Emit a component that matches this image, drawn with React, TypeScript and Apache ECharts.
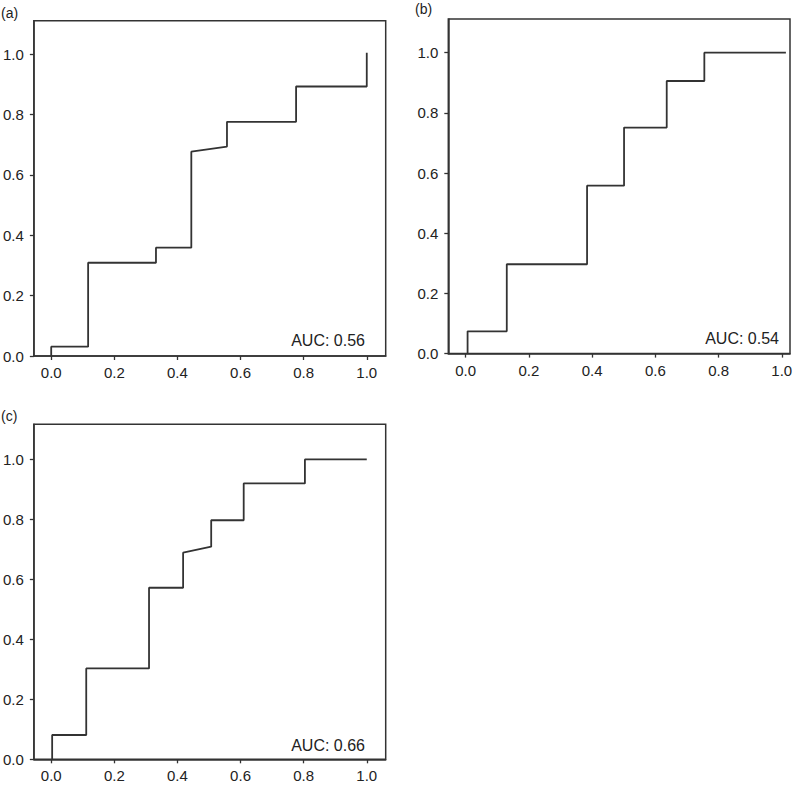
import React, { useEffect, useRef } from "react";
import * as echarts from "echarts";

// ROC curve vertices [false positive rate, true positive rate]
const rocA: [number, number][] = [
  [0, 0], [0, 0.031], [0.117, 0.031], [0.117, 0.309], [0.332, 0.309], [0.332, 0.359],
  [0.444, 0.359], [0.444, 0.677], [0.557, 0.694], [0.557, 0.776], [0.776, 0.776],
  [0.776, 0.893], [1.0, 0.893], [1.0, 1.005],
];
const rocB: [number, number][] = [
  [0.006, 0], [0.006, 0.074], [0.13, 0.074], [0.13, 0.297], [0.384, 0.297], [0.384, 0.558],
  [0.501, 0.558], [0.501, 0.751], [0.636, 0.751], [0.636, 0.906], [0.755, 0.906],
  [0.755, 1.0], [1.013, 1.0],
];
const rocC: [number, number][] = [
  [0.003, 0], [0.003, 0.081], [0.111, 0.081], [0.111, 0.303], [0.31, 0.303], [0.31, 0.572],
  [0.418, 0.572], [0.418, 0.689], [0.507, 0.709], [0.507, 0.797], [0.61, 0.797],
  [0.61, 0.92], [0.804, 0.92], [0.804, 1.0], [1.0, 1.0],
];
const panelLabels = ["(a)", "(b)", "(c)"];
const aucLabels = ["AUC: 0.56", "AUC: 0.54", "AUC: 0.66"];
const tickValues = [0, 0.2, 0.4, 0.6, 0.8, 1.0];

const FONT = "Liberation Sans, Arial, sans-serif";
const INK = "#222";
const LINE = "#333";

export default function App() {
  const ref = useRef<HTMLDivElement>(null);
  useEffect(() => {
    if (!ref.current) return;
    const chart = echarts.init(ref.current, null, { renderer: "svg" });

    const grids = [
      { left: 33.3, top: 20.7, width: 352.4, height: 335.3 },
      { left: 448.3, top: 19, width: 341.7, height: 334.6 },
      { left: 33.3, top: 424.3, width: 352.4, height: 335 },
    ];
    const xr = [
      [-0.055, 1.06],
      [-0.055, 1.026],
      [-0.055, 1.06],
    ];
    const yr = [
      [0, 1.111],
      [0, 1.112],
      [0, 1.117],
    ];
    const datasets = [rocA, rocB, rocC];

    const mkAxis = (i: number, isX: boolean) => ({
      type: "value",
      gridIndex: i,
      min: isX ? xr[i][0] : yr[i][0],
      max: isX ? xr[i][1] : yr[i][1],
      splitLine: { show: false },
      axisLine: { show: true, onZero: false, lineStyle: { color: LINE, width: 1.5 } },
      axisTick: {
        show: true,
        inside: false,
        length: 4,
        customValues: tickValues,
        lineStyle: { color: LINE, width: 1.3 },
      },
      axisLabel: {
        show: true,
        customValues: tickValues,
        formatter: (v: number) => v.toFixed(1),
        color: INK,
        fontSize: 15,
        fontFamily: FONT,
        margin: isX ? 9 : 10,
      },
    });

    const aucPos = [
      { x: 365, y: 340 },
      { x: 779, y: 338 },
      { x: 365, y: 745 },
    ];
    const labelPos = [
      { x: 1, y: 12.5 },
      { x: 415, y: 9 },
      { x: 1, y: 416 },
    ];

    chart.setOption({
      animation: false,
      backgroundColor: "#fff",
      textStyle: { fontFamily: FONT, fontSize: 15, color: INK },
      grid: grids.map((g) => ({
        ...g,
        show: true,
        borderColor: LINE,
        borderWidth: 1.5,
        backgroundColor: "transparent",
        containLabel: false,
      })),
      xAxis: [0, 1, 2].map((i) => mkAxis(i, true)),
      yAxis: [0, 1, 2].map((i) => mkAxis(i, false)),
      series: datasets.map((d, i) => ({
        type: "line",
        xAxisIndex: i,
        yAxisIndex: i,
        data: d,
        showSymbol: false,
        symbol: "none",
        lineStyle: { color: LINE, width: 1.8 },
        silent: true,
      })),
      graphic: [
        ...panelLabels.map((t, i) => ({
          type: "text",
          x: labelPos[i].x,
          y: labelPos[i].y,
          style: {
            text: t,
            fill: INK,
            fontSize: 14,
            fontFamily: FONT,
            textVerticalAlign: "middle",
            verticalAlign: "middle",
          },
        })),
        ...aucLabels.map((t, i) => ({
          type: "text",
          x: aucPos[i].x,
          y: aucPos[i].y,
          style: {
            text: t,
            fill: INK,
            fontSize: 16,
            fontFamily: FONT,
            align: "right",
            textAlign: "right",
            verticalAlign: "middle",
            textVerticalAlign: "middle",
          },
        })),
      ],
    });
    return () => chart.dispose();
  }, []);
  return (
    <div
      ref={ref}
      style={{ position: "fixed", left: 0, top: 0, width: 800, height: 787, background: "#fff" }}
    />
  );
}
